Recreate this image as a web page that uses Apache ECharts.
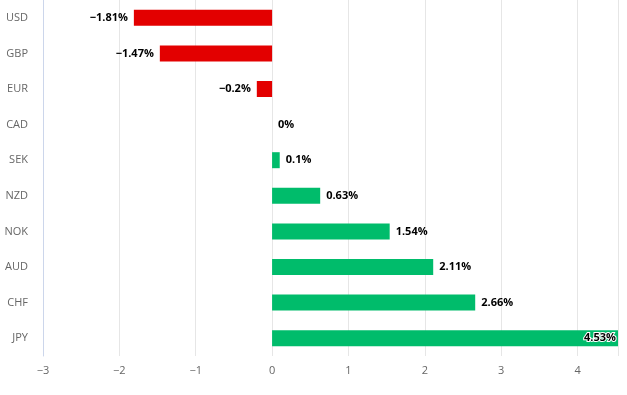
<!DOCTYPE html>
<html><head><meta charset="utf-8">
<script src="https://cdn.jsdelivr.net/npm/echarts@6/dist/echarts.min.js"></script>
<style>html,body{margin:0;padding:0;background:#fff}#c{width:627px;height:395px}</style>
</head><body><div id="c"></div>
<script>
const categories = ['USD','GBP','EUR','CAD','SEK','NZD','NOK','AUD','CHF','JPY'];
const values = [-1.81,-1.47,-0.2,0,0.1,0.63,1.54,2.11,2.66,4.53];
const xTicks = [-3,-2,-1,0,1,2,3,4];
const xMin = -3, xMax = 4.53;

const fmt = v => (v < 0 ? '\u2212' + Math.abs(v) : String(v)) + '%';
const data = values.map((v, i) => {
  const inside = v === xMax;
  return {
    value: v,
    itemStyle: { color: v < 0 ? '#e30000' : '#00bc6b' },
    label: {
      position: inside ? 'insideRight' : (v < 0 ? 'left' : 'right'),
      distance: inside ? 2 : 6,
      textBorderColor: inside ? '#fff' : 'transparent',
      textBorderWidth: inside ? 2 : 0
    }
  };
});
const chart = echarts.init(document.getElementById('c'));
chart.setOption({
  animation: false,
  grid: { left: 43, right: 9, top: 0, bottom: 39, containLabel: false },
  xAxis: {
    type: 'value', min: xMin, max: xMax, interval: 1,
    axisLine: { show: false }, axisTick: { show: false },
    splitLine: { lineStyle: { color: '#e6e6e6', width: 1 } },
    axisLabel: { showMaxLabel: false, color: '#666', fontSize: 11, margin: 9,
      fontFamily: 'Open Sans',
      formatter: v => xTicks.includes(v) ? (v < 0 ? '\u2212' + Math.abs(v) : String(v)) : '' }
  },
  yAxis: {
    type: 'category', data: categories, inverse: true,
    axisLine: { onZero: false, lineStyle: { color: '#ccd6eb' } },
    axisTick: { lineStyle: { color: '#ccd6eb' }, length: 10 },
    axisLabel: { color: '#666', fontSize: 11, margin: 15, fontFamily: 'Open Sans' }
  },
  series: [{
    type: 'bar', data: data, barWidth: 16,
    label: { show: true, formatter: p => fmt(p.value), color: '#000', fontWeight: 'bold',
      fontSize: 11, fontFamily: 'Open Sans' }
  }]
});
</script></body></html>
